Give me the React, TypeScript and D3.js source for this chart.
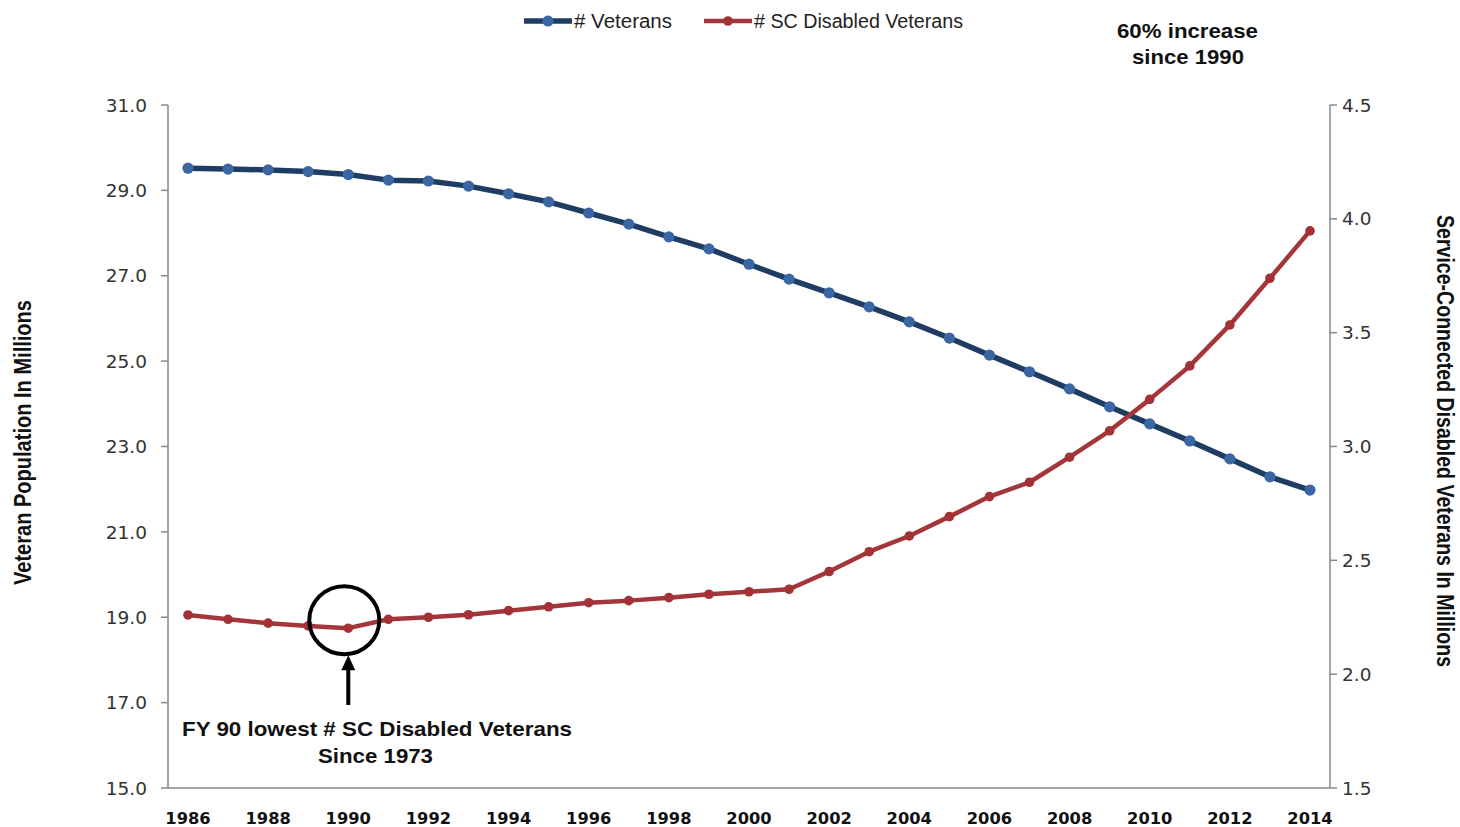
import React from "react";
import * as d3 from "d3";

const years = [1986,1987,1988,1989,1990,1991,1992,1993,1994,1995,1996,1997,1998,1999,2000,2001,2002,2003,2004,2005,2006,2007,2008,2009,2010,2011,2012,2013,2014];
const veterans = [29.52,29.50,29.48,29.44,29.37,29.24,29.22,29.10,28.92,28.73,28.47,28.21,27.91,27.63,27.27,26.92,26.60,26.27,25.92,25.54,25.14,24.75,24.35,23.93,23.53,23.13,22.71,22.29,21.98];
const scDisabled = [2.260,2.241,2.224,2.212,2.202,2.241,2.250,2.261,2.279,2.296,2.314,2.323,2.336,2.351,2.362,2.373,2.451,2.538,2.607,2.692,2.780,2.843,2.953,3.069,3.207,3.354,3.534,3.739,3.947];
const leftTicks = [15,17,19,21,23,25,27,29,31];
const rightTicks = [1.5,2.0,2.5,3.0,3.5,4.0,4.5];
const xTickYears = [1986,1988,1990,1992,1994,1996,1998,2000,2002,2004,2006,2008,2010,2012,2014];
const seriesNames = ["# Veterans", "# SC Disabled Veterans"];
const leftTitle = "Veteran Population In Millions";
const rightTitle = "Service-Connected Disabled Veterans In Millions";
const noteLines = ["FY 90 lowest # SC Disabled Veterans", "Since 1973"];
const increaseLines = ["60% increase", "since 1990"];
const lowestYear = 1990;

const W = 1460, H = 827;
const plot = { left: 168, right: 1330, top: 105, bottom: 788 };
const SANS = "'Liberation Sans', Arial, sans-serif";
const TICKFONT = "'DejaVu Sans', Verdana, sans-serif";
const BLUE_LINE = "#1F3C63", BLUE_MARK = "#3A66A3";
const RED_LINE = "#A3363A", RED_MARK = "#A33236";
const AXIS = "#888888";

export default function App() {
  const x = d3.scaleLinear().domain([1986, 2014]).range([188, 1310]);
  const yL = d3.scaleLinear().domain([15, 31]).range([plot.bottom, plot.top]);
  const yR = d3.scaleLinear().domain([1.5, 4.5]).range([plot.bottom, plot.top]);
  const lineL = d3.line<number>().x((_, i) => x(years[i])).y((d) => yL(d));
  const lineR = d3.line<number>().x((_, i) => x(years[i])).y((d) => yR(d));

  const lowIdx = years.indexOf(lowestYear);
  const cx = x(lowestYear) - 4;
  const cy = yR(scDisabled[lowIdx]) - 8;

  return (
    <svg width={W} height={H} style={{ position: "absolute", left: 0, top: 0, background: "#fff" }}>
      <rect width={W} height={H} fill="#fff" />
      {/* axes */}
      <line x1={plot.left} x2={plot.left} y1={plot.top} y2={plot.bottom} stroke={AXIS} strokeWidth={1.5} />
      <line x1={plot.right} x2={plot.right} y1={plot.top} y2={plot.bottom} stroke={AXIS} strokeWidth={1.5} />
      <line x1={plot.left} x2={plot.right} y1={plot.bottom} y2={plot.bottom} stroke={AXIS} strokeWidth={1.5} />
      {leftTicks.map((t) => (
        <g key={"l" + t}>
          <line x1={plot.left - 7} x2={plot.left} y1={yL(t)} y2={yL(t)} stroke={AXIS} strokeWidth={1.5} />
          <text x={plot.left - 21} y={yL(t)} dy="0.36em" textAnchor="end" fontFamily={TICKFONT} fontSize={18.5} fill="#333">
            {t.toFixed(1)}
          </text>
        </g>
      ))}
      {rightTicks.map((t) => (
        <g key={"r" + t}>
          <line x1={plot.right} x2={plot.right + 7} y1={yR(t)} y2={yR(t)} stroke={AXIS} strokeWidth={1.5} />
          <text x={plot.right + 12} y={yR(t)} dy="0.36em" textAnchor="start" fontFamily={TICKFONT} fontSize={18.5} fill="#333">
            {t.toFixed(1)}
          </text>
        </g>
      ))}
      {xTickYears.map((yr) => (
        <text key={yr} x={x(yr)} y={824} textAnchor="middle" fontFamily={TICKFONT} fontWeight="bold" fontSize={16.3} fill="#111">
          {yr}
        </text>
      ))}
      {/* axis titles */}
      <text transform={`translate(31,442.5) rotate(-90)`} textAnchor="middle" fontFamily={SANS} fontWeight="bold" fontSize={23} fill="#111" textLength={285} lengthAdjust="spacingAndGlyphs">
        {leftTitle}
      </text>
      <text transform={`translate(1437,441) rotate(90)`} textAnchor="middle" fontFamily={SANS} fontWeight="bold" fontSize={23} fill="#111" textLength={452} lengthAdjust="spacingAndGlyphs">
        {rightTitle}
      </text>
      {/* series */}
      <path d={lineL(veterans) || ""} fill="none" stroke={BLUE_LINE} strokeWidth={5.5} strokeLinejoin="round" />
      {veterans.map((v, i) => (
        <circle key={"b" + i} cx={x(years[i])} cy={yL(v)} r={5.6} fill={BLUE_MARK} />
      ))}
      <path d={lineR(scDisabled) || ""} fill="none" stroke={RED_LINE} strokeWidth={4.5} strokeLinejoin="round" />
      {scDisabled.map((v, i) => (
        <circle key={"r" + i} cx={x(years[i])} cy={yR(v)} r={4.8} fill={RED_MARK} />
      ))}
      {/* annotation circle & arrow */}
      <ellipse cx={cx} cy={cy} rx={35} ry={34} fill="none" stroke="#000" strokeWidth={4} />
      <line x1={cx + 4} x2={cx + 4} y1={705} y2={cy + 46} stroke="#000" strokeWidth={4} />
      <path d={`M${cx + 4},${cy + 35} L${cx - 3},${cy + 50} L${cx + 11},${cy + 50} Z`} fill="#000" />
      <text x={377} y={736} textAnchor="middle" fontFamily={SANS} fontWeight="bold" fontSize={21} fill="#111" textLength={390} lengthAdjust="spacingAndGlyphs">
        {noteLines[0]}
      </text>
      <text x={375.5} y={763} textAnchor="middle" fontFamily={SANS} fontWeight="bold" fontSize={21} fill="#111" textLength={115} lengthAdjust="spacingAndGlyphs">
        {noteLines[1]}
      </text>
      {/* 60% note */}
      <text x={1187.5} y={38} textAnchor="middle" fontFamily={SANS} fontWeight="bold" fontSize={21} fill="#111" textLength={141} lengthAdjust="spacingAndGlyphs">
        {increaseLines[0]}
      </text>
      <text x={1188} y={64} textAnchor="middle" fontFamily={SANS} fontWeight="bold" fontSize={21} fill="#111" textLength={112} lengthAdjust="spacingAndGlyphs">
        {increaseLines[1]}
      </text>
      {/* legend */}
      <g>
        <line x1={524} x2={572} y1={21} y2={21} stroke={BLUE_LINE} strokeWidth={5.5} />
        <circle cx={548} cy={21} r={5.6} fill={BLUE_MARK} />
        <text x={574} y={21} dy="0.35em" fontFamily={SANS} fontSize={20} fill="#222" textLength={98} lengthAdjust="spacingAndGlyphs">{seriesNames[0]}</text>
        <line x1={704} x2={752} y1={21} y2={21} stroke={RED_LINE} strokeWidth={4.5} />
        <circle cx={728} cy={21} r={4.8} fill={RED_MARK} />
        <text x={754} y={21} dy="0.35em" fontFamily={SANS} fontSize={20} fill="#222" textLength={209} lengthAdjust="spacingAndGlyphs">{seriesNames[1]}</text>
      </g>
    </svg>
  );
}
